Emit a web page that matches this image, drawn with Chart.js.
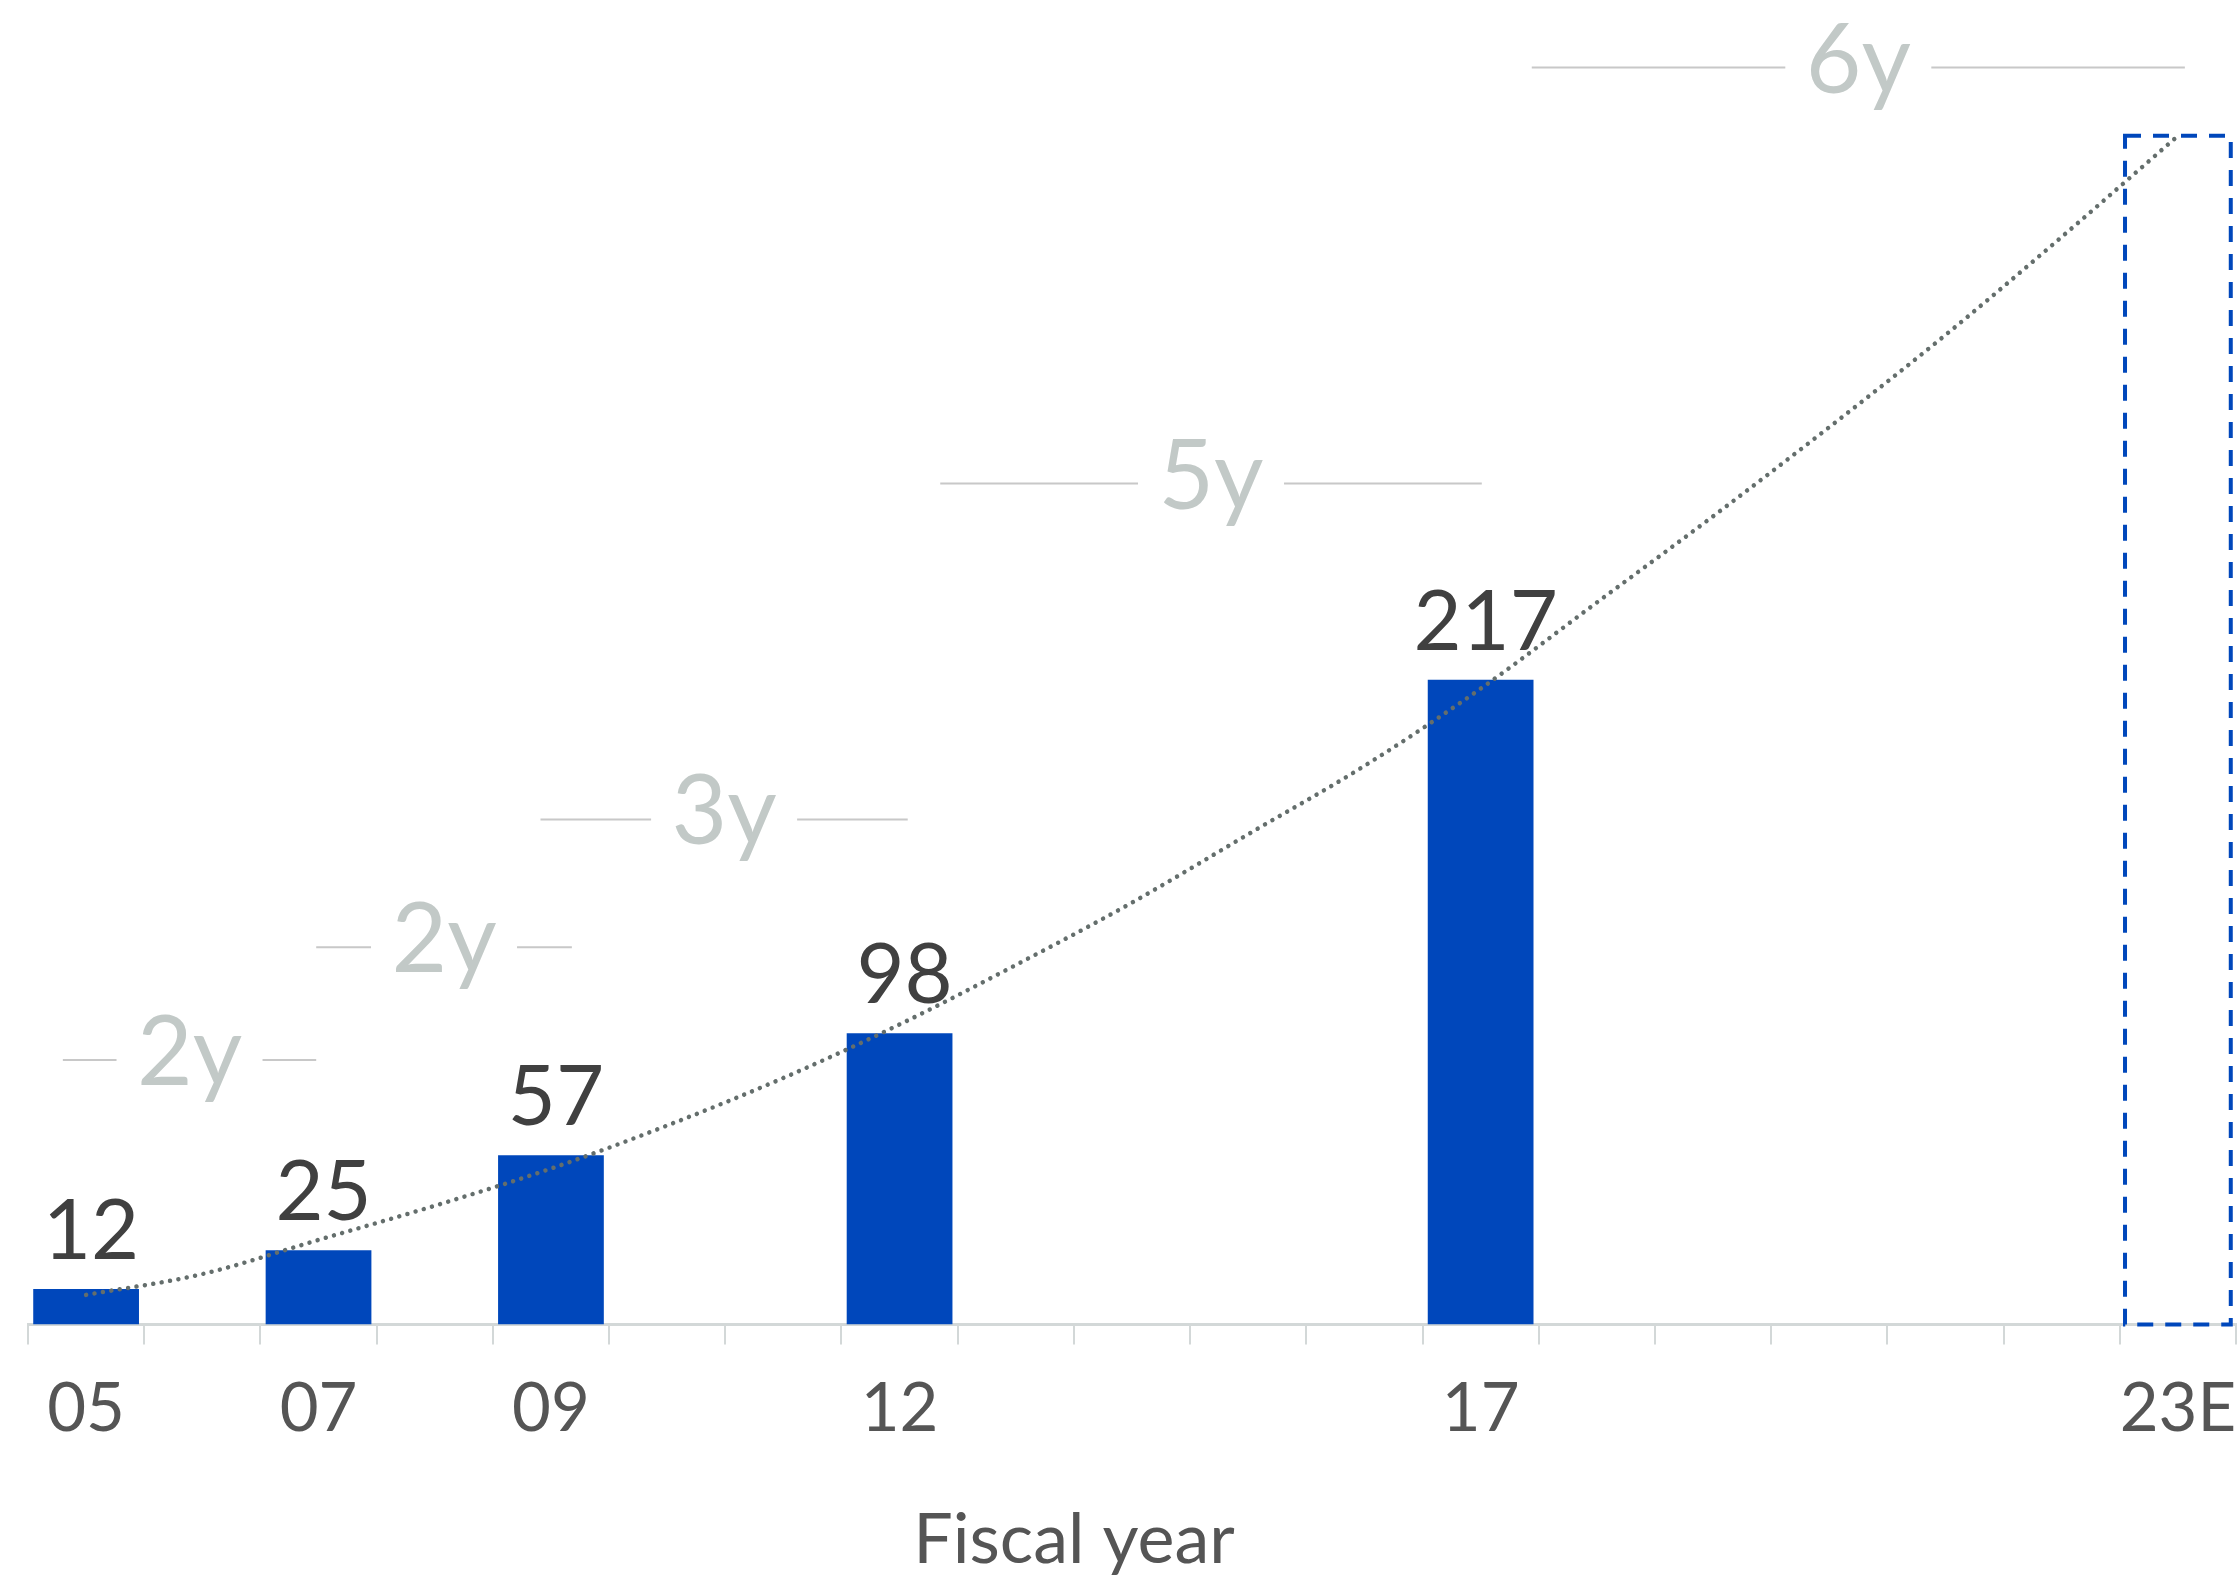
<!DOCTYPE html>
<html>
<head>
<meta charset="utf-8">
<script src="https://cdn.jsdelivr.net/npm/chart.js@4.4.0/dist/chart.umd.min.js"></script>
<style>
  html, body { margin: 0; padding: 0; background: #fff; }
</style>
</head>
<body>
<canvas id="chart" width="2238" height="1575"></canvas>
<script>
// fiscal years on the axis, only some of them get a label
const years = ['05','06','07','08','09','10','11','12','13','14','15','16','17','18','19','20','21','22','23E'];
const labeledYears = ['05','07','09','12','17','23E'];
const revenue = [12, null, 25, null, 57, null, null, 98, null, null, null, null, 217, null, null, null, null, null, 400];
const estimateYear = '23E';
// dotted trend line
const trend = [10, 17, 28.5, 40, 52.5, 67, 83, 101, 121, 142, 165, 188, 214, 243, 272, 302, 333, 366, 400];
// interval brackets ("2y" etc), start/end on the category axis, height in data units
const spanText = ['2y', '2y', '3y', '5y', '6y'];
const spanStart = [-0.2, 1.98, 3.91, 7.35, 12.44];
const spanEnd = [1.98, 4.18, 7.07, 12.01, 18.06];
const spanLevel = [89, 127, 170, 283, 423];
const axisTitle = 'Fiscal year';

const FONT = 'Lato, "Noto Sans", sans-serif';
const BLUE = '#0047bb';

const valueLabels = {
  id: 'valueLabels',
  afterDatasetsDraw(chart) {
    const ctx = chart.ctx;
    const meta = chart.getDatasetMeta(1);
    ctx.save();
    ctx.font = `83px ${FONT}`;
    ctx.fillStyle = '#404040';
    ctx.textAlign = 'center';
    ctx.textBaseline = 'alphabetic';
    meta.data.forEach((bar, i) => {
      if (revenue[i] == null || years[i] == estimateYear) return;
      ctx.fillText(revenue[i], bar.x + 5, bar.y - 30);
    });
    ctx.restore();
  }
};

// the estimate is an empty bar with a dashed outline
const estimateBox = {
  id: 'estimateBox',
  afterDatasetsDraw(chart) {
    const ctx = chart.ctx;
    const bar = chart.getDatasetMeta(1).data[years.indexOf(estimateYear)];
    ctx.save();
    ctx.strokeStyle = BLUE;
    ctx.lineWidth = 4;
    ctx.setLineDash([16, 12]);
    ctx.strokeRect(bar.x - bar.width / 2, bar.y, bar.width, bar.base - bar.y);
    ctx.restore();
  }
};

const spans = {
  id: 'spans',
  afterDraw(chart) {
    const ctx = chart.ctx;
    const x = chart.scales.x, y = chart.scales.y;
    ctx.save();
    ctx.font = `96px ${FONT}`;
    ctx.textAlign = 'center';
    ctx.textBaseline = 'alphabetic';
    spanText.forEach((txt, i) => {
      const x1 = x.getPixelForValue(spanStart[i]);
      const x2 = x.getPixelForValue(spanEnd[i]);
      const yy = y.getPixelForValue(spanLevel[i]);
      const mid = (x1 + x2) / 2;
      ctx.strokeStyle = '#c8c8c8';
      ctx.lineWidth = 2;
      ctx.beginPath();
      ctx.moveTo(x1, yy); ctx.lineTo(mid - 73, yy);
      ctx.moveTo(mid + 73, yy); ctx.lineTo(x2, yy);
      ctx.stroke();
      ctx.fillStyle = '#c2c9c7';
      ctx.fillText(txt, mid, yy + 25);
    });
    ctx.restore();
  }
};

// axis title sits a bit left of centre in the original, so draw it by hand
const xTitle = {
  id: 'xTitle',
  afterDraw(chart) {
    const ctx = chart.ctx;
    const area = chart.chartArea;
    ctx.save();
    ctx.font = `70px ${FONT}`;
    ctx.fillStyle = '#555555';
    ctx.textAlign = 'center';
    ctx.textBaseline = 'alphabetic';
    ctx.fillText(axisTitle, (area.left + area.right) / 2 - 58, chart.height - 12);
    ctx.restore();
  }
};

new Chart(document.getElementById('chart'), {
  type: 'bar',
  data: {
    labels: years,
    datasets: [
      {
        type: 'line',
        data: trend,
        borderColor: '#646e6c',
        borderWidth: 4.5,
        borderDash: [0.01, 8.5],
        borderCapStyle: 'round',
        pointRadius: 0,
        cubicInterpolationMode: 'monotone',
        order: 0
      },
      {
        data: revenue,
        backgroundColor: years.map(y => y == estimateYear ? 'rgba(0,0,0,0)' : BLUE),
        barPercentage: 0.91,
        categoryPercentage: 1,
        order: 1
      }
    ]
  },
  options: {
    responsive: false,
    animation: false,
    devicePixelRatio: 1,
    layout: { padding: { left: 28, right: 2, top: 17, bottom: 100 } },
    plugins: { legend: { display: false }, tooltip: { enabled: false } },
    scales: {
      x: {
        offset: true,
        grid: { offset: true, drawOnChartArea: false, tickLength: 20, color: '#d3d8d8', lineWidth: 2 },
        border: { color: '#d3d8d8', width: 3 },
        ticks: {
          autoSkip: false,
          maxRotation: 0,
          padding: 25,
          color: '#555555',
          font: { family: FONT, size: 67 },
          callback: function(v) {
            const l = this.getLabelForValue(v);
            return labeledYears.includes(l) ? l : '';
          }
        },
        // last label hangs over the edge in the original, don't shrink the plot for it
        afterFit: scale => { scale.paddingRight = 0; scale.paddingLeft = 0; }
      },
      y: { display: false, min: 0, max: 440 }
    }
  },
  plugins: [valueLabels, estimateBox, spans, xTitle]
});
</script>
</body>
</html>
